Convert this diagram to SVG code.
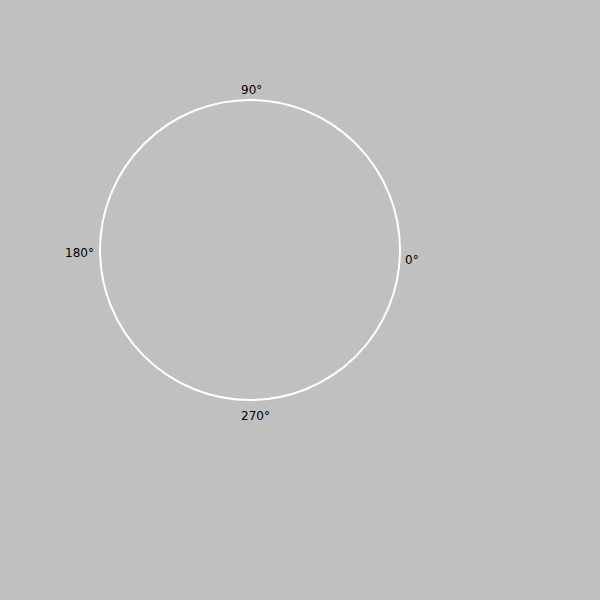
<svg xmlns="http://www.w3.org/2000/svg" width="600" height="600" viewBox="0 0 600 600">
<style>
.lbl{font-family:"DejaVu Sans","Liberation Sans",sans-serif;font-size:12px;fill:#000}
</style>
<rect width="600" height="600" fill="#c0c0c0"/>
<g id="circle"><circle cx="250" cy="250" r="150" fill="none" stroke="#ffffff" stroke-width="2"/></g>
<g id="labels">
<text class="lbl" x="241" y="94">90°</text>
<text class="lbl" x="65" y="257">180°</text>
<text class="lbl" x="405" y="264">0°</text>
<text class="lbl" x="241" y="420">270°</text>
</g>
</svg>
